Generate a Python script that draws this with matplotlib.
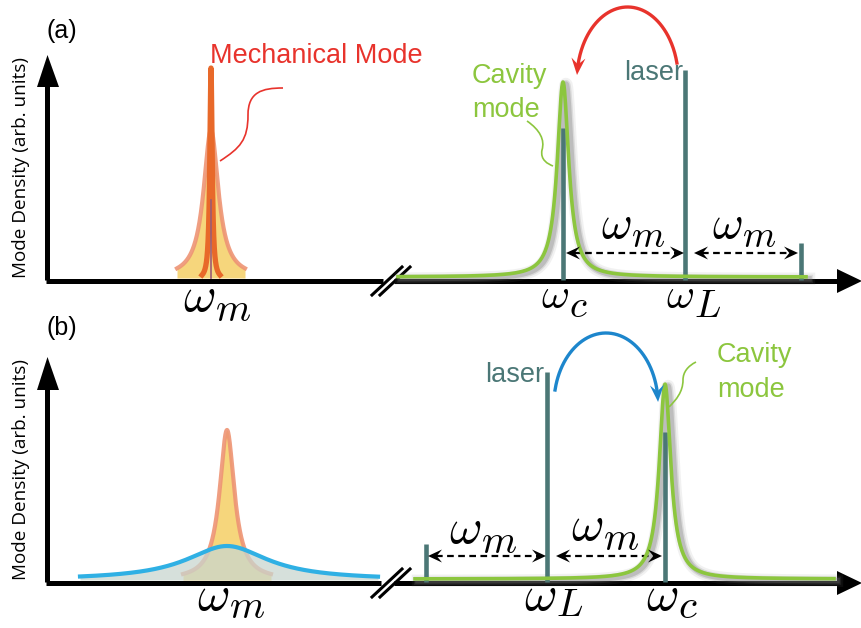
import numpy as np
import matplotlib
matplotlib.use('Agg')
import matplotlib.pyplot as plt
from matplotlib.patches import Polygon, PathPatch
from matplotlib.path import Path

plt.rcParams['mathtext.fontset'] = 'cm'
plt.rcParams['font.family'] = ['Liberation Sans', 'DejaVu Sans']

# ---------------- data (frequency axis / mode density, arbitrary units) -------------
panel_labels = ['(a)', '(b)']
ylabel_text = 'Mode Density (arb. units)'

# panel (a): red-detuned drive, narrow mechanical mode
a_mech_center = 211
a_mech_narrow = [212, 1.4]      # height, half width
a_mech_broad = [148, 9.0]
a_cav_center = 563
a_cav_peak = [195, 7.0]
a_laser_freq = 685
a_sideband_freq = 801
a_line_heights = [152, 210, 37]  # omega_c marker, laser, sideband

# panel (b): blue-detuned drive, broadened mechanical mode
b_mech_center = 227
b_mech_peak = [150, 9.0]
b_mech_broad = [34, 50.0]
b_cav_center = 665
b_cav_peak = [195, 7.0]
b_laser_freq = 547
b_sideband_freq = 426
b_line_heights = [150, 210, 38]

# ---------------- styles ----------------
TEAL = '#4b7776'
GREEN = '#8cc63e'
RED = '#e8332c'
BLUE_ARC = '#1d86cc'
BLUE = '#2fb0e4'
ORANGE = '#e8692a'
SALMON = '#ee9474'
YELLOW = '#f6d67c'

fig = plt.figure(figsize=(8.62, 6.28), dpi=100)
H = 628.0


def lorentz(x, h, g, c):
    return h / (1.0 + ((x - c) / g) ** 2)


def make_axes(top_px, bot_px, base_px):
    ax = fig.add_axes([0, 1 - bot_px / H, 1, (bot_px - top_px) / H])
    ax.set_xlim(0, 862)
    ax.set_ylim(base_px - bot_px, base_px - top_px)
    ax.axis('off')
    return ax


def head(ax, tip, direction, L=14, w=6.5, color='black', z=5):
    d = np.array(direction, float)
    d /= np.linalg.norm(d)
    n = np.array([-d[1], d[0]])
    t = np.array(tip, float)
    pts = [t, t - L * d + w * n, t - 0.62 * L * d, t - L * d - w * n]
    ax.add_patch(Polygon(pts, closed=True, color=color, lw=0, zorder=z, clip_on=False))


def frame(ax, base, ytop, break_x, xend, yhead):
    ax.plot([47.5, 47.5], [0, ytop - 20], color='black', lw=3.6, solid_capstyle='butt', clip_on=False)
    ax.add_patch(Polygon([[47.5, ytop], [37, ytop - yhead], [59, ytop - yhead]], closed=True,
                         color='black', lw=0, clip_on=False))
    ax.plot([46, break_x[0]], [-1, -1], color='black', lw=3.6, solid_capstyle='butt', clip_on=False)
    ax.plot([break_x[1], xend - 20], [-1, -1], color='black', lw=3.6, solid_capstyle='butt', clip_on=False)
    ax.add_patch(Polygon([[xend, -1], [xend - 25, 11], [xend - 25, -13]], closed=True,
                         color='black', lw=0, clip_on=False))
    for x0 in (372, 380):
        ax.plot([x0, x0 + 30], [-15, 13], color='black', lw=2.2, clip_on=False)


def curve(ax, verts, color, lw=1.2):
    codes = [Path.MOVETO] + [Path.CURVE4] * (len(verts) - 1)
    ax.add_patch(PathPatch(Path(verts, codes), fc='none', ec=color, lw=lw, clip_on=False, zorder=6))


def dashed_arrow(ax, x0, x1, y):
    ax.plot([x0 + 8, x1 - 8], [y, y], color='black', lw=1.6, ls=(0, (3, 2)), clip_on=False)
    head(ax, (x0, y), (-1, 0))
    head(ax, (x1, y), (1, 0))


def cavity(ax, c, peak, xr):
    x = np.linspace(xr[0], xr[1], 800)
    y = lorentz(x, peak[0], peak[1], c) + 3
    for lw, al in [(9, 0.10), (6, 0.18), (4, 0.30)]:
        ax.plot(x + 3, y - 2, color='#7a7a7a', lw=lw, alpha=al, clip_on=False, zorder=2)
    ax.plot(x, y, color=GREEN, lw=2.6, clip_on=False, zorder=4)


def teal_line(ax, x, h, lw=3.3):
    ax.plot([x, x], [0, h], color=TEAL, lw=lw, solid_capstyle='butt', clip_on=False, zorder=3)


def arc_arrow(ax, base, cx, cy, a, b, t0, t1, color):
    t = np.linspace(t0, t1, 200)
    px = cx + a * np.cos(t)
    py = cy - b * np.sin(t)
    tip = np.array([px[-1], base - py[-1]])
    prev = np.array([px[-8], base - py[-8]])
    ax.plot(px[:-10], base - py[:-10], color=color, lw=2.4, clip_on=False, zorder=6)
    head(ax, tip, tip - prev, L=17, w=7, color=color, z=7)


def omega(ax, x, y, sub, fs, sub_scale=0.8, drop=0.2):
    """omega with a large subscript; x = left edge, y = baseline (data units = px)"""
    ax.text(x, y, r'$\omega$', fontsize=fs, ha='left', va='baseline')
    w = 0.64 * fs * 100 / 72.0
    ax.text(x + w, y - drop * fs * 100 / 72.0, r'$%s$' % sub, fontsize=fs * sub_scale,
            ha='left', va='baseline')


lab_fs = 19.5
ylab_fs = 13.6

# =============================== panel (a) ===============================
base_a = 280
ax = make_axes(0, 314, base_a)
frame(ax, base_a, 280 - 55, (383, 394), 862, 32)

x = np.linspace(a_mech_center - 34, a_mech_center + 34, 400)
yb = lorentz(x, a_mech_broad[0], a_mech_broad[1], a_mech_center)
ax.fill_between(x, 2, yb + 2, color=YELLOW, lw=0, zorder=2, clip_on=False)
ax.plot(x, yb + 2, color=SALMON, lw=3, alpha=0.9, zorder=3, clip_on=False)
xn = np.linspace(a_mech_center - 9, a_mech_center + 9, 400)
ax.plot(xn, lorentz(xn, a_mech_narrow[0], a_mech_narrow[1], a_mech_center), color=ORANGE,
        lw=3.8, zorder=4, clip_on=False)
ax.plot([a_mech_center, a_mech_center], [2, 80], color='#9b5b74', lw=1.2, zorder=5, clip_on=False)

teal_line(ax, a_cav_center, a_line_heights[0])
teal_line(ax, a_laser_freq, a_line_heights[1])
teal_line(ax, a_sideband_freq, a_line_heights[2])
cavity(ax, a_cav_center, a_cav_peak, (398, 806))

dashed_arrow(ax, a_cav_center + 3, a_laser_freq - 1, base_a - 253)
dashed_arrow(ax, a_laser_freq + 9, a_sideband_freq - 3, base_a - 253)

ax.text(47, base_a - 38, panel_labels[0], fontsize=18, ha='left', va='baseline')
ax.text(21, 280 - 168, ylabel_text, family=['Open Sans', 'DejaVu Sans'], fontsize=ylab_fs,
        rotation=90, ha='center', va='center')
ax.text(210, base_a - 63, 'Mechanical Mode', color=RED, fontsize=lab_fs, ha='left', va='baseline')
ax.text(683, base_a - 80, 'laser', color=TEAL, fontsize=lab_fs, ha='right', va='baseline')
ax.text(472, base_a - 83, 'Cavity', color=GREEN, fontsize=lab_fs, ha='left', va='baseline')
ax.text(472, base_a - 117, 'mode', color=GREEN, fontsize=lab_fs, ha='left', va='baseline')

omega(ax, 183, base_a - 311, 'm', 36)
omega(ax, 541, base_a - 308, 'c', 31, sub_scale=0.9)
omega(ax, 666, base_a - 308, 'L', 31, sub_scale=0.9)
omega(ax, 601, base_a - 238, 'm', 34)
omega(ax, 712, base_a - 238, 'm', 34)

curve(ax, [(220, base_a - 161), (240, base_a - 148), (248, base_a - 140), (248, base_a - 115),
           (248, base_a - 92), (262, base_a - 88), (283, base_a - 88)], RED)
curve(ax, [(527, base_a - 121), (540, base_a - 130), (545, base_a - 140), (542, base_a - 150),
           (540, base_a - 160), (548, base_a - 164), (553, base_a - 166)], GREEN)
arc_arrow(ax, base_a, 627.6, 80, 50.7, 73, 0.235, np.pi - 0.0685, RED)

# =============================== panel (b) ===============================
base_b = 582
ax = make_axes(314, 628, base_b)
frame(ax, base_b, 582 - 357, (381, 394), 862, 33)

x = np.linspace(b_mech_center - 44, b_mech_center + 44, 400)
yo = lorentz(x, b_mech_peak[0], b_mech_peak[1], b_mech_center)
ax.fill_between(x, 2, yo + 2, color=YELLOW, lw=0, zorder=2, clip_on=False)
ax.plot(x, yo + 2, color=SALMON, lw=3, alpha=0.9, zorder=3, clip_on=False)
xb = np.linspace(80, 378, 600)
ybl = lorentz(xb, b_mech_broad[0], b_mech_broad[1], b_mech_center)
ax.fill_between(xb, 2, ybl + 2, color='#c9d6cf', alpha=0.75, lw=0, zorder=3, clip_on=False)
ax.plot(xb, ybl + 2, color=BLUE, lw=3, zorder=4, clip_on=False)

teal_line(ax, b_cav_center, b_line_heights[0])
teal_line(ax, b_laser_freq, b_line_heights[1])
teal_line(ax, b_sideband_freq, b_line_heights[2])
cavity(ax, b_cav_center, b_cav_peak, (415, 834))

dashed_arrow(ax, b_sideband_freq + 2, b_laser_freq - 1, base_b - 556)
dashed_arrow(ax, b_laser_freq + 9, b_cav_center - 3, base_b - 556)

ax.text(47, base_b - 335, panel_labels[1], fontsize=18, ha='left', va='baseline')
ax.text(21, base_b - 470, ylabel_text, family=['Open Sans', 'DejaVu Sans'], fontsize=ylab_fs,
        rotation=90, ha='center', va='center')
ax.text(544, base_b - 382, 'laser', color=TEAL, fontsize=lab_fs, ha='right', va='baseline')
ax.text(717, base_b - 362, 'Cavity', color=GREEN, fontsize=lab_fs, ha='left', va='baseline')
ax.text(717, base_b - 397, 'mode', color=GREEN, fontsize=lab_fs, ha='left', va='baseline')

omega(ax, 197, base_b - 610, 'm', 36, drop=0.15)
omega(ax, 524, base_b - 610, 'L', 36, sub_scale=0.78, drop=0.13)
omega(ax, 646, base_b - 610, 'c', 36, sub_scale=0.82, drop=0.15)
omega(ax, 449, base_b - 543, 'm', 36)
omega(ax, 571, base_b - 540, 'm', 36)

curve(ax, [(696, base_b - 362), (688, base_b - 366), (683, base_b - 372), (683, base_b - 380),
           (683, base_b - 392), (676, base_b - 400), (669, base_b - 407)], GREEN)
arc_arrow(ax, base_b, 606, 405, 52.1, 72, np.pi - 0.21, 0.042, BLUE_ARC)

fig.savefig('out.png', dpi=100)
